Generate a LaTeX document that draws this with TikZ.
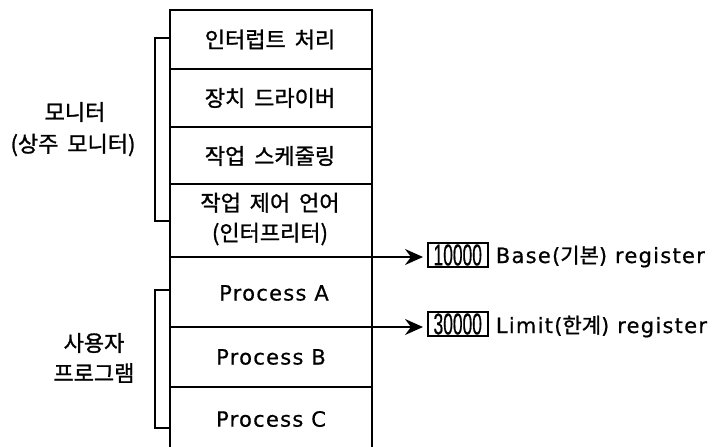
\documentclass[tikz,border=0pt]{standalone}
\usepackage{fontspec}
\usetikzlibrary{arrows.meta}
\newfontfamily\krfont[WordSpace=1.8,FakeBold=1.2]{Noto Sans CJK KR}
\newfontfamily\latfont[LetterSpace=6,FakeBold=0.6]{DejaVu Sans}
\newfontfamily\numfont[FakeStretch=0.58,FakeBold=0.5]{Liberation Sans}
\begin{document}
\begin{tikzpicture}[x=1pt,y=-1pt,line width=1.8pt,
  kr/.style={font=\krfont\fontsize{22}{30}\selectfont, inner sep=0pt},
  lat/.style={font=\latfont\fontsize{21}{30}\selectfont, inner sep=0pt},
  regbox/.style={draw, line width=1.5pt, minimum width=60pt, minimum height=24pt, inner sep=0pt, font=\numfont\fontsize{30}{30}\selectfont},
  arr/.style={-{Stealth[length=18pt,width=16pt,inset=6pt]}, line width=1.8pt, shorten >=4pt},
  brk/.style={line width=1.8pt}]
\useasboundingbox (0,0) rectangle (715,447);
% main memory column
\coordinate (tl) at (170,10); \coordinate (tr) at (372,10);
\coordinate (bl) at (170,447); \coordinate (br) at (372,447);
\draw (bl) -- (tl) -- (tr) -- (br);
\draw (170,69) -- (372,69);
\draw (170,127) -- (372,127);
\draw (170,184) -- (372,184);
\draw (170,387) -- (372,387);
% cells
\node[kr] (c1) at (270,39.5) {인터럽트 처리};
\node[kr] (c2) at (270,98) {장치 드라이버};
\node[kr] (c3) at (270,156) {작업 스케줄링};
\node[kr, align=center] (c4) at (270,219) {작업 제어 언어\\(인터프리터)};
\node[lat] (c5) at (274,293) {Process A};
\node[lat] (c6) at (271,357) {Process B};
\node[lat] (c7) at (271,419) {Process C};
% registers
\coordinate (a1) at (170,257);
\coordinate (a2) at (170,327);
\node[regbox, anchor=west] (r1) at (427,255) {10000};
\node[regbox, anchor=west] (r2) at (427,324) {30000};
\draw[arr] (a1) -- (a1 -| r1.west);
\draw[arr] (a2) -- (a2 -| r2.west);
\node[anchor=base west, inner sep=0pt, font=\fontsize{21}{25}\selectfont] (t1) at (495,263) {{\latfont Base(}{\krfont 기본}{\latfont ) register}};
\node[anchor=base west, inner sep=0pt, font=\fontsize{21}{25}\selectfont] (t2) at (495,333) {{\latfont Limit(}{\krfont 한계}{\latfont ) register}};
% brackets
\draw[brk] (170,38) -- (155,38) -- (155,221) -- (170,221);
\draw[brk] (170,290) -- (155,290) -- (155,428) -- (170,428);
% side labels
\node[kr] (m1) at (75,112) {모니터};
\node[kr] (m2) at (73,145) {(상주 모니터)};
\node[kr] (u1) at (94,343) {사용자};
\node[kr] (u2) at (94,373) {프로그램};
\end{tikzpicture}
\end{document}
